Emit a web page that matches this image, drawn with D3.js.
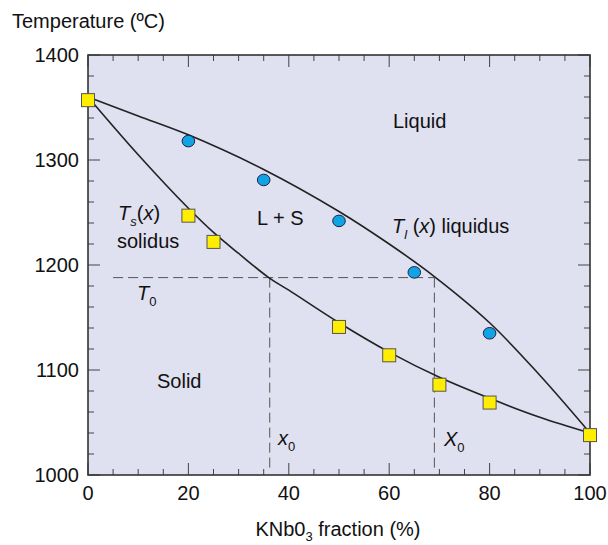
<!DOCTYPE html>
<html>
<head>
<meta charset="utf-8">
<script src="https://cdn.jsdelivr.net/npm/d3@7"></script>
<style>
  body { margin: 0; background: #fff; }
  svg { display: block; font-family: "Liberation Sans", Arial, sans-serif; }
</style>
</head>
<body>
<svg id="chart" width="608" height="545"></svg>
<script>
// Phase diagram: KNbO3 fraction vs temperature
const xTicks = [0, 20, 40, 60, 80, 100];
const yTicks = [1000, 1100, 1200, 1300, 1400];

// measured points
const solidusPts = [[0, 1357], [20, 1247], [25, 1222], [50, 1141], [60, 1114], [70, 1086], [80, 1069], [100, 1038]];
const liquidusPts = [[20, 1318], [35, 1281], [50, 1242], [65, 1193], [80, 1135]];

// fitted curves
const solidusCurve = [[0, 1360], [10, 1305], [20, 1254], [25, 1231], [30, 1211], [36, 1188], [40, 1176], [50, 1145], [60, 1117], [70, 1093], [80, 1073], [90, 1055], [100, 1040]];
const liquidusCurve = [[0, 1360], [10, 1342], [20, 1324], [35, 1291], [50, 1251], [60, 1220], [69, 1189], [80, 1145], [90, 1095], [100, 1040]];

// T0 / x0 / X0 construction
const T0 = 1188, x0 = 36.2, X0 = 69, tStart = 5;

const svg = d3.select('#chart');
const m = { left: 88, right: 590, top: 55, bottom: 475 };

const x = d3.scaleLinear().domain([0, 100]).range([m.left, m.right]);
const y = d3.scaleLinear().domain([1000, 1400]).range([m.bottom, m.top]);

// background
svg.append('rect')
  .attr('x', m.left).attr('y', m.top)
  .attr('width', m.right - m.left).attr('height', m.bottom - m.top)
  .attr('fill', '#dfe0f0');

// ticks (inward, all four sides)
const g = svg.append('g').attr('stroke', '#444').attr('stroke-width', 1);
d3.range(0, 101, 5).forEach(v => {
  const len = v % 20 === 0 ? 12 : 6;
  g.append('line').attr('x1', x(v)).attr('x2', x(v)).attr('y1', m.bottom).attr('y2', m.bottom - len);
  g.append('line').attr('x1', x(v)).attr('x2', x(v)).attr('y1', m.top).attr('y2', m.top + len);
});
d3.range(1000, 1401, 20).forEach(v => {
  const len = v % 100 === 0 ? 12 : 6;
  g.append('line').attr('y1', y(v)).attr('y2', y(v)).attr('x1', m.left).attr('x2', m.left + len);
  g.append('line').attr('y1', y(v)).attr('y2', y(v)).attr('x1', m.right).attr('x2', m.right - len);
});

// frame
svg.append('rect')
  .attr('x', m.left).attr('y', m.top)
  .attr('width', m.right - m.left).attr('height', m.bottom - m.top)
  .attr('fill', 'none').attr('stroke', '#333').attr('stroke-width', 1.6);

// tick labels
svg.append('g').selectAll('text').data(xTicks).join('text')
  .attr('x', d => x(d)).attr('y', 500)
  .attr('text-anchor', 'middle').attr('font-size', 20).attr('fill', '#111')
  .text(d => d);
svg.append('g').selectAll('text').data(yTicks).join('text')
  .attr('x', 79).attr('y', d => y(d) + 7)
  .attr('text-anchor', 'end').attr('font-size', 20).attr('fill', '#111')
  .text(d => d);

// dashed construction lines
const dash = svg.append('g').attr('stroke', '#555').attr('stroke-width', 1).attr('stroke-dasharray', '10,5').attr('fill', 'none');
dash.append('line').attr('x1', x(tStart)).attr('x2', x(X0)).attr('y1', y(T0)).attr('y2', y(T0));
dash.append('line').attr('x1', x(x0)).attr('x2', x(x0)).attr('y1', y(T0)).attr('y2', y(1000) - 4);
dash.append('line').attr('x1', x(X0)).attr('x2', x(X0)).attr('y1', y(T0)).attr('y2', y(1000) - 4);

// curves
const line = d3.line().x(d => x(d[0])).y(d => y(d[1])).curve(d3.curveCatmullRom.alpha(0.5));
svg.append('path').datum(solidusCurve).attr('d', line)
  .attr('fill', 'none').attr('stroke', '#222').attr('stroke-width', 1.6);
svg.append('path').datum(liquidusCurve).attr('d', line)
  .attr('fill', 'none').attr('stroke', '#222').attr('stroke-width', 1.6);

// markers
svg.append('g').selectAll('ellipse').data(liquidusPts).join('ellipse')
  .attr('cx', d => x(d[0])).attr('cy', d => y(d[1]))
  .attr('rx', 6.3).attr('ry', 5.8)
  .attr('fill', '#10a4e4').attr('stroke', '#224').attr('stroke-width', 1);
svg.append('g').selectAll('rect').data(solidusPts).join('rect')
  .attr('x', d => x(d[0]) - 6.5).attr('y', d => y(d[1]) - 6.5)
  .attr('width', 13).attr('height', 13)
  .attr('fill', '#ffee00').attr('stroke', '#555').attr('stroke-width', 1);

// labels
const lab = (tx, ty, parts, anchor = 'start', subDy = 6) => {
  const t = svg.append('text').attr('x', tx).attr('y', ty).attr('font-size', 20)
    .attr('fill', '#111').attr('text-anchor', anchor);
  parts.forEach(p => {
    const s = t.append('tspan').text(p.t);
    if (p.it) s.attr('font-style', 'italic');
    if (p.sub) s.attr('font-size', 13).attr('dy', subDy);
    if (p.up) s.attr('dy', -subDy);
  });
  return t;
};

lab(12, 28, [{ t: 'Temperature (ºC)' }]);
lab(338, 536, [{ t: 'KNb0' }, { t: '3', sub: true }, { t: ' fraction (%)', up: true }], 'middle', 5);
lab(393, 128, [{ t: 'Liquid' }]);
lab(257, 225, [{ t: 'L + S' }]);
lab(118, 220, [{ t: 'T', it: true }, { t: 's', it: true, sub: true }, { t: '(', up: true }, { t: 'x', it: true }, { t: ')' }]);
lab(117, 248, [{ t: 'solidus' }]);
lab(392, 233, [{ t: 'T', it: true }, { t: 'l', it: true, sub: true }, { t: ' (', up: true }, { t: 'x', it: true }, { t: ') liquidus' }]);
lab(137, 300, [{ t: 'T', it: true }, { t: '0', sub: true }]);
lab(157, 388, [{ t: 'Solid' }]);
lab(278, 445, [{ t: 'x', it: true }, { t: '0', sub: true }]);
lab(444, 446, [{ t: 'X', it: true }, { t: '0', sub: true }]);
</script>
</body>
</html>
